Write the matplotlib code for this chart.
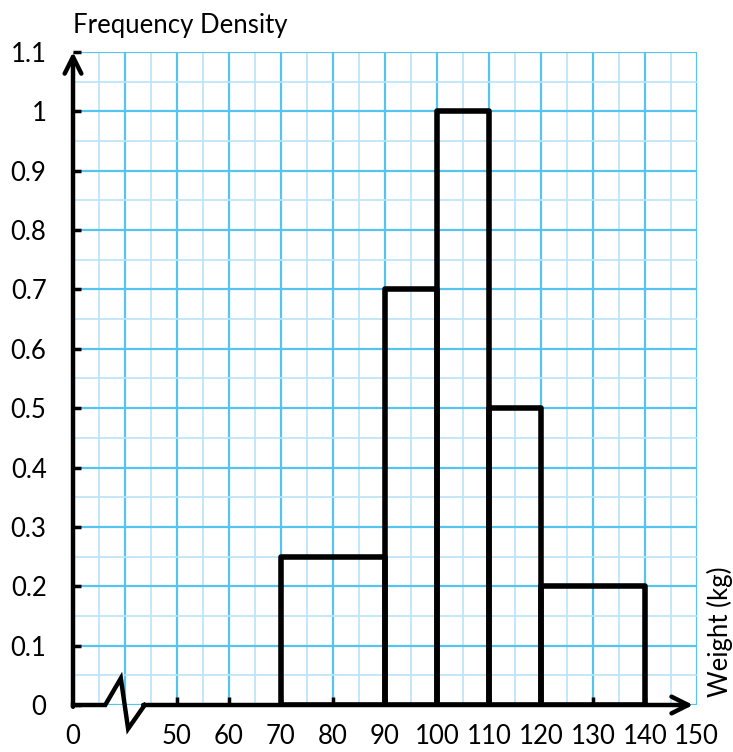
import numpy as np
import matplotlib.pyplot as plt

# ---------------------------------------------------------
# DATA
# ---------------------------------------------------------
class_lower = [70, 90, 100, 110, 120]
class_upper = [90, 100, 110, 120, 140]
freq_density = [0.25, 0.7, 1.0, 0.5, 0.2]

x_ticks = [30, 40, 50, 60, 70, 80, 90, 100, 110, 120, 130, 140, 150]
x_labels = ["0", "", "50", "60", "70", "80", "90", "100", "110", "120", "130", "140", "150"]
y_ticks = [0, 0.1, 0.2, 0.3, 0.4, 0.5, 0.6, 0.7, 0.8, 0.9, 1.0, 1.1]
y_labels = ["0", "0.1", "0.2", "0.3", "0.4", "0.5", "0.6", "0.7", "0.8", "0.9", "1", "1.1"]

# zig-zag axis break just right of the origin
break_x = [30, 36.2, 39.2, 40.6, 43.8]
break_y = [0, 0, 0.045, -0.04, 0]

plt.rcParams['font.family'] = ['Lato', 'DejaVu Sans']
FS = 18.5

fig = plt.figure(figsize=(7.33, 7.52), dpi=100)
ax = fig.add_axes([0.0996, 0.0625, 0.851, 0.8684])
ax.set_xlim(30, 150)
ax.set_ylim(0, 1.1)

# graph paper grid
major_col = "#55c4ef"
minor_col = "#b9e4f8"
ax.set_xticks(x_ticks)
ax.set_xticks(np.arange(35, 150, 10), minor=True)
ax.set_yticks(y_ticks)
ax.set_yticks(np.arange(0.05, 1.1, 0.1), minor=True)
ax.grid(which="minor", color=minor_col, lw=1.2, zorder=0)
ax.grid(which="major", color=major_col, lw=1.6, zorder=0)
ax.set_axisbelow(True)

for s in ax.spines.values():
    s.set_visible(False)

ax.set_xticklabels(x_labels, fontsize=FS)
ax.set_yticklabels(y_labels, fontsize=FS)
ax.tick_params(axis="x", which="major", direction="in", length=6, width=2.5,
               color="black", pad=14, top=False)
ax.tick_params(axis="y", which="major", direction="in", length=6, width=2.5,
               color="black", pad=19, right=False)
ax.tick_params(which="minor", length=0)
# no tick marks at origin, break and arrow end
for t in ax.xaxis.get_major_ticks():
    if t.get_loc() in (30, 40, 150):
        t.tick1line.set_visible(False)

# histogram bars
for lo, hi, fd in zip(class_lower, class_upper, freq_density):
    ax.bar(lo, fd, width=hi - lo, align="edge", facecolor="none",
           edgecolor="black", lw=4, zorder=3, joinstyle="round")

# axes with arrows
ax.plot(break_x, break_y, color="black", lw=3.2, clip_on=False, zorder=4,
        solid_joinstyle="miter")
ax.annotate("", xy=(149.3, 0), xytext=(43.5, 0),
            arrowprops=dict(arrowstyle="->", lw=3.2, color="black",
                            mutation_scale=30, shrinkA=0, shrinkB=0),
            annotation_clip=False, zorder=4)
ax.annotate("", xy=(30, 1.1), xytext=(30, -0.003),
            arrowprops=dict(arrowstyle="->", lw=3.2, color="black",
                            mutation_scale=30, shrinkA=0, shrinkB=0),
            annotation_clip=False, zorder=4)

fig.text(0.099, 0.966, "Frequency Density", fontsize=FS, ha="left", va="center")
fig.text(0.982, 0.16, "Weight (kg)", fontsize=FS, rotation=90, ha="center",
         va="center")

fig.savefig("out.png", dpi=100)
